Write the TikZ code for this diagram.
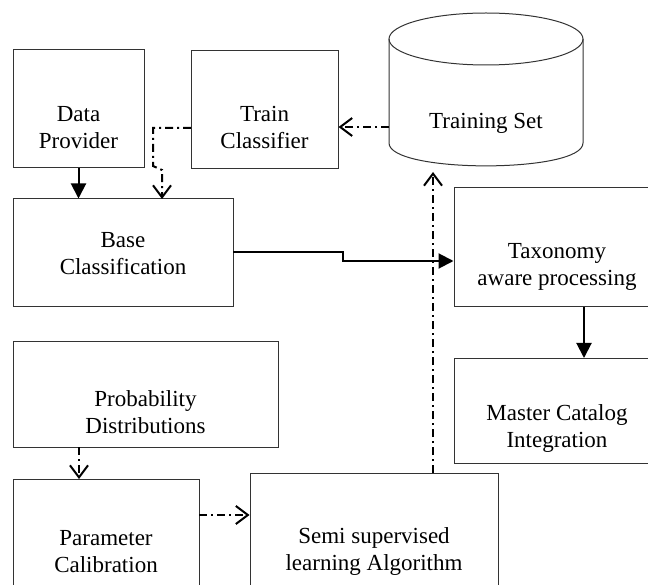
\documentclass[tikz,border=0pt]{standalone}
\usepackage{fontspec}
\setmainfont{Liberation Serif}
\usetikzlibrary{arrows.meta}
\begin{document}
\begin{tikzpicture}[x=1pt,y=-1pt,
  box/.style={draw=black!80, line width=1pt, rectangle, inner sep=0pt},
  txt/.style={font=\fontsize{23}{27}\selectfont, align=center, inner sep=0pt},
  solidarrow/.style={line width=2pt, -{Triangle[length=15pt,width=15pt]}},
  dasharrow/.style={line width=2pt, dash pattern=on 8pt off 4pt on 2pt off 4pt, -{Straight Barb[length=12pt,width=18pt,line width=2pt]}}
]
\useasboundingbox (0,0) rectangle (648,585);

% boxes
\node[box, minimum width=131pt, minimum height=118pt] (dp) at (78.5,109) {};
\node[box, minimum width=147pt, minimum height=118pt] (tc) at (264.5,110) {};
\node[box, minimum width=220pt, minimum height=108pt] (base) at (123,253) {};
\node[box, minimum width=208pt, minimum height=119pt] (tax) at (558,247.5) {};
\node[box, minimum width=208pt, minimum height=105pt] (mc) at (558,410.5) {};
\node[box, minimum width=265pt, minimum height=105pt] (prob) at (145.5,394.5) {};
\node[box, minimum width=186pt, minimum height=111pt] (param) at (106,534.5) {};
\node[box, minimum width=248pt, minimum height=117pt] (semi) at (374,531.5) {};

% cylinder
\draw[draw=black!80, line width=1pt] (486,39) ellipse [x radius=97, y radius=26];
\draw[draw=black!80, line width=1pt] (389,39) -- (389,143) .. controls (389,173.5) and (583,173.5) .. (583,143) -- (583,39);
\node[inner sep=0pt, minimum width=194pt, minimum height=153pt] (cyl) at (486,89.5) {};

% texts
\node[txt] (dpT) at (78.5,128) {Data\\Provider};
\node[txt] (tcT) at (264.5,128) {Train\\Classifier};
\node[txt] (cylT) at (486,123) {Training Set};
\node[txt] (baseT) at (123,254) {Base\\Classification};
\node[txt] (taxT) at (557,267) {Taxonomy\\aware processing};
\node[txt] (mcT) at (557,429) {Master Catalog\\Integration};
\node[txt] (probT) at (145.5,412) {Probability\\Distributions};
\node[txt] (paramT) at (106,552) {Parameter\\Calibration};
\node[txt] (semiT) at (374,552) {Semi supervised\\learning Algorithm};

% connector end points
\coordinate (tcW) at (191,128);
\coordinate (cylW) at (389,127);
\coordinate (cylB) at (433,172);
\coordinate (baseE) at (233,252);
\coordinate (paramE) at (199,515);

% connectors
\draw[solidarrow] (dp.south) -- (dp.south |- base.north);
\draw[dasharrow] (tcW) -- (153,128) -- (153,166) -- (162,170) -- (162,199);
\draw[dasharrow] (cylW) -- (tc.east |- cylW);
\draw[solidarrow] (baseE) -- (343,252) -- (343,261) -- (tax.west |- 0,261);
\draw[solidarrow] (584,307) -- (584,358);
\draw[dasharrow] (79,447) -- (79,479);
\draw[dasharrow] (paramE) -- (semi.west |- paramE);
\draw[dasharrow] (433,473) -- (cylB);
\end{tikzpicture}
\end{document}
